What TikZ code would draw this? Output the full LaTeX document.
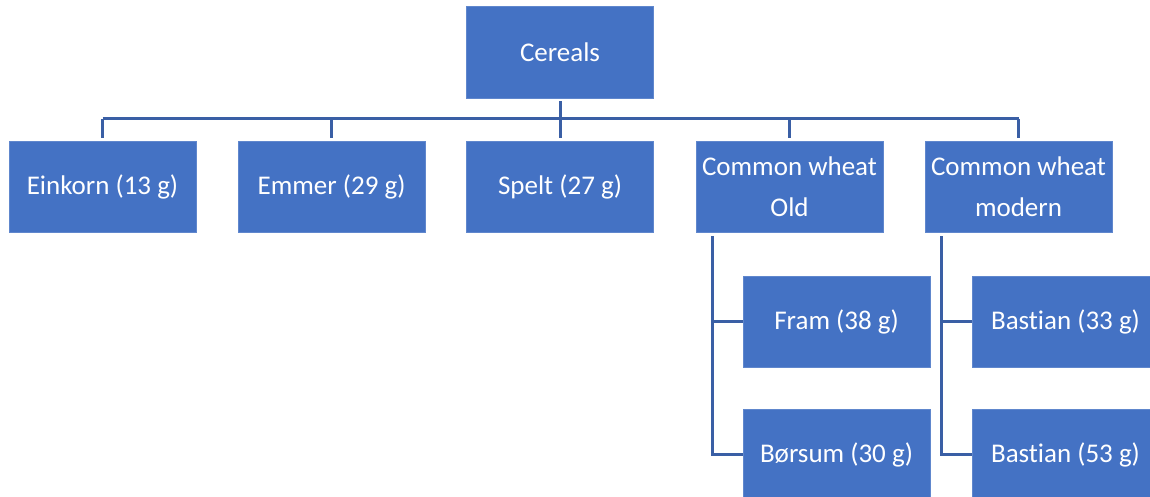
\documentclass[tikz,border=0pt]{standalone}
\usepackage{fontspec}
\setmainfont[Ligatures=NoCommon]{Carlito}
\definecolor{boxblue}{HTML}{4472C4}
\definecolor{lineblue}{HTML}{3A5FA5}
\begin{document}
\begin{tikzpicture}[x=1pt,y=-1pt,
  box/.style={fill=boxblue, draw=boxblue!85!white, line width=0.8pt, minimum width=187pt, minimum height=91pt,
    inner sep=0pt, text=white, align=center, font=\fontsize{27}{41}\selectfont},
  conn/.style={draw=lineblue, line width=3pt}]
\useasboundingbox (0,0) rectangle (1150,497);
\clip (0,0) rectangle (1150,497);
\node[box, minimum height=92pt] (cer) at (560,52) {Cereals};
\node[box] (ein) at (102.5,186.5) {Einkorn (13 g)};
\node[box] (emm) at (331.5,186.5) {Emmer (29 g)};
\node[box] (spe) at (560,186.5) {Spelt (27 g)};
\node[box] (old) at (789.5,186.5) {Common wheat\\Old};
\node[box] (mod) at (1018.5,186.5) {Common wheat\\modern};
\node[box] (fram) at (836.5,321.5) {Fram (38 g)};
\node[box] (bor) at (836.5,454.5) {Børsum (30 g)};
\node[box] (bas1) at (1065.5,321.5) {Bastian (33 g)};
\node[box] (bas2) at (1065.5,454.5) {Bastian (53 g)};
\coordinate (bar) at (560,119);
\draw[conn, shorten <=3pt, shorten >=3pt] (cer.south) -- (spe.north);
\draw[conn] (ein.north |- bar) -- (mod.north |- bar);
\foreach \n in {ein,emm,old,mod}
  \draw[conn, shorten >=3pt] (\n.north |- bar) -- (\n.north);
\draw[conn, shorten <=4pt] ([xshift=17pt]old.south west) |- (fram.west);
\draw[conn, shorten <=4pt] ([xshift=17pt]old.south west) |- (bor.west);
\draw[conn, shorten <=4pt] ([xshift=17pt]mod.south west) |- (bas1.west);
\draw[conn, shorten <=4pt] ([xshift=17pt]mod.south west) |- (bas2.west);
\end{tikzpicture}
\end{document}
